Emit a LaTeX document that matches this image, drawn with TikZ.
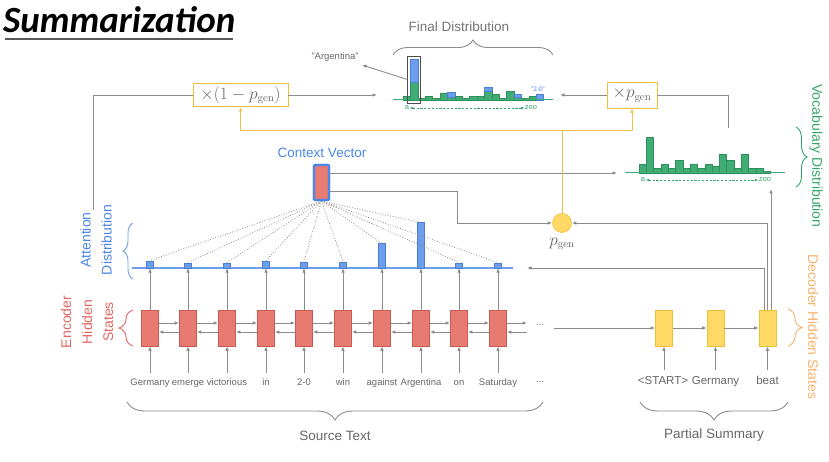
\documentclass[tikz,border=0pt]{standalone}
\usepackage[no-math]{fontspec}
\setmainfont{Liberation Sans}
\newfontfamily\titlefont{Carlito}
\usetikzlibrary{arrows.meta,decorations.pathreplacing,calc}
\definecolor{lgray}{HTML}{8C8C8C}
\definecolor{tgray}{HTML}{666666}
\definecolor{encfill}{HTML}{E77B71}
\definecolor{encdraw}{HTML}{C95A50}
\definecolor{bfill}{HTML}{6D9EEB}
\definecolor{bdraw}{HTML}{4A7FD9}
\definecolor{btext}{HTML}{4A86E8}
\definecolor{gfill}{HTML}{41AD76}
\definecolor{gdraw}{HTML}{2E8F5B}
\definecolor{gtext}{HTML}{35A46A}
\definecolor{yfill}{HTML}{FFD966}
\definecolor{ydraw}{HTML}{EFBF3A}
\definecolor{yline}{HTML}{F2BE45}
\definecolor{otext}{HTML}{F6B26B}
\definecolor{rtext}{HTML}{E06660}
\begin{document}
\begin{tikzpicture}[x=1pt,y=-1pt,
  ln/.style={draw=lgray,line width=0.9pt},
  arr/.style={ln,-{Latex[length=4.5pt,width=3.6pt]}},
  yarr/.style={draw=yline,line width=1pt,-{Latex[length=4.5pt,width=3.6pt]}},
  encbox/.style={draw=encdraw,fill=encfill,minimum width=17pt,minimum height=36pt,inner sep=0pt,line width=0.6pt},
  decbox/.style={draw=ydraw,fill=yfill,minimum width=17pt,minimum height=36pt,inner sep=0pt,line width=0.6pt},
  word/.style={text=tgray,font=\fontsize{9.5}{11}\selectfont,text height=7pt,text depth=2pt,inner sep=1pt,outer ysep=5pt},
  dword/.style={text=tgray,font=\fontsize{11.5}{13}\selectfont,text height=8.5pt,text depth=2.5pt,inner sep=1pt,outer ysep=5pt},
  attbar/.style={draw=bdraw,fill=bfill,minimum width=7pt,inner sep=0pt,anchor=south,line width=0.5pt},
  gbar/.style={draw=gdraw,fill=gfill,line width=0.4pt},
  bbar/.style={draw=bdraw,fill=bfill,line width=0.4pt},
  lbl/.style={font=\fontsize{13.5}{16}\selectfont},
  brc/.style={decorate,line width=0.9pt},
  mbox/.style={draw=ydraw,fill=white,line width=0.9pt,inner sep=1pt,text=tgray,font=\fontsize{16}{18}\selectfont},
  dotl/.style={draw=lgray,line width=0.8pt,dash pattern=on 0.8pt off 1.8pt},
  small/.style={font=\fontsize{7.5}{8}\selectfont,inner sep=0.5pt},
  sdash/.style={draw=gtext,line width=0.8pt,dash pattern=on 2.2pt off 1.6pt,{Latex[length=3.4pt,width=3pt]}-{Latex[length=3.4pt,width=3pt]}}
]
\useasboundingbox (0,0) rectangle (829,462);

% title
\node[anchor=west,inner sep=0pt,font=\titlefont\bfseries\itshape\fontsize{37}{42}\selectfont] (title) at (3,20) {Summarization};
\draw[line width=2pt,draw=black!65] (5,39) -- (233,39);

% attention line
\coordinate (attL) at (132,268);
\coordinate (attR) at (513,268);
\draw[draw=bfill,line width=1.1pt] (attL) -- (attR);

% context vector
\node[draw=btext,fill=encfill,line width=2.2pt,minimum width=15pt,minimum height=35pt,inner sep=0pt,rounded corners=1pt] (cv) at (321.5,182.5) {};
\node[lbl,text=btext] (cvl) at (322,153) {Context Vector};

% encoder
\foreach \i/\x/\w/\h in {1/150/Germany/7, 2/188/emerge/5, 3/227/victorious/5, 4/266/in/7, 5/304/2-0/6, 6/343/win/6, 7/382/against/24, 8/421/Argentina/45, 9/459/on/5, 10/498/Saturday/5} {
  \node[encbox] (e\i) at (\x,328) {};
  \node[word] (w\i) at (\x,383) {\w};
  \draw[arr] (w\i.north) -- (e\i.south);
  \draw[arr] (e\i.north) -- (e\i.north |- attL);
  \node[attbar,minimum height=\h pt] (a\i) at (\x,268) {};
  \draw[dotl] (cv.south) -- (a\i.north);
}
\node[draw=btext,fill=encfill,line width=2.2pt,minimum width=15pt,minimum height=35pt,inner sep=0pt,rounded corners=1pt] at (cv) {};
\foreach \i/\j in {1/2,2/3,3/4,4/5,5/6,6/7,7/8,8/9,9/10} {
  \draw[arr] ([yshift=5pt]e\i.east) -- ([yshift=5pt]e\j.west);
  \draw[arr] ([yshift=-4pt]e\j.west) -- ([yshift=-4pt]e\i.east);
}
\coordinate (eo1) at (527,323);
\coordinate (eo2) at (527,332);
\draw[arr] ([yshift=5pt]e10.east) -- (eo1);
\draw[arr] (eo2) -- ([yshift=-4pt]e10.east);
\node[text=tgray,font=\fontsize{10}{12}\selectfont] (dots) at (540,325) {...};
\node[text=tgray,font=\fontsize{10}{12}\selectfont] (wdots) at (540,382) {...};

% decoder
\node[decbox] (d1) at (664,328) {};
\node[decbox] (d2) at (715.5,328) {};
\node[decbox] (d3) at (767.5,328) {};
\node[dword] (dw1) at (663,381) {<START>};
\node[dword] (dw2) at (715.5,381) {Germany};
\node[dword] (dw3) at (767.5,381) {beat};
\foreach \i in {1,2,3} {\draw[arr] (dw\i.north -| d\i.south) -- (d\i.south);}
\draw[arr] (d1.east) -- (d2.west);
\draw[arr] (d2.east) -- (d3.west);
\draw[arr] ([xshift=6pt]dots.east |- d1.west) -- (d1.west);

% p_gen
\node[circle,draw=ydraw,fill=yfill,minimum size=19pt,inner sep=0pt,line width=0.6pt] (pg) at (562,223) {};
\node[text=tgray,font=\fontsize{16}{18}\selectfont] (pgl) at (562,244) {$p_{\mathrm{gen}}$};
\coordinate (bend) at (457,223);
\draw[arr] ([yshift=-8.5pt]cv.east) -| (bend) -- (pg.west);
\coordinate (vocL) at (617,173);
\draw[arr] ([yshift=9.5pt]cv.east) -- (vocL);
\draw[arr] (d3.north) |- (pg.east);
\coordinate (attTip) at (527,268);
\draw[arr] ([xshift=-3.5pt]d3.north) |- (attTip);
\coordinate (vocB) at (771,189);
\draw[arr] ([xshift=3.5pt]d3.north) -- (vocB);

% multiply boxes
\node[mbox,minimum width=95pt,minimum height=23pt] (m1) at (240.5,95) {$\times(1-p_{\mathrm{gen}})$};
\node[mbox,minimum width=50pt,minimum height=26pt] (m2) at (632,95) {$\times p_{\mathrm{gen}}$};
\coordinate (yj) at (562,131);
\draw[draw=yline,line width=1pt] (pg.north) -- (yj);
\draw[yarr] (yj) -| (m1.south);
\draw[yarr] (yj) -| (m2.south);
\coordinate (attnSrc) at (93,210);
\draw[ln] (attnSrc) |- (m1.west);
\coordinate (finL) at (377,95);
\draw[arr] (m1.east) -- (finL);
\coordinate (finR) at (560,95);
\draw[arr] (m2.west) -- (finR);
\coordinate (vtop) at (728,128);
\draw[ln] (m2.east) -| (vtop);

% final distribution
\foreach \i/\g/\b in {1/96/96, 2/82/59, 3/98/98, 4/96/96, 5/98/98, 6/93/93, 7/97/92, 8/96/96, 9/98/98, 10/96/96, 11/96/96, 12/91/87, 13/94/94, 14/98/98, 15/91/91, 16/97/94, 17/98/98, 18/96/96, 19/100/94} {
  \pgfmathsetmacro\xl{403+7.4*(\i-1)}
  \draw[gbar] (\xl,\g) rectangle (\xl+7.4,100);
  \ifdim \b pt<\g pt \draw[bbar] (\xl,\b) rectangle (\xl+7.4,\g); \fi
}
\coordinate (fb1) at (393,100);
\coordinate (fb2) at (553,100);
\draw[draw=gfill,line width=1pt] (fb1) -- (fb2);
\node[draw=black!70,line width=0.6pt,minimum width=13pt,minimum height=47pt,inner sep=0pt] (hl) at (414.1,79.5) {};
\node[text=tgray,font=\fontsize{9.5}{11}\selectfont] (argl) at (335,57) {"Argentina"};
\draw[arr] (hl.west) -- (argl.south east);
\node[small,text=gtext] (fa) at (407,108) {a};
\node[small,text=gtext] (fz) at (531,108) {zoo};
\draw[sdash] (fa.east) -- (fz.west);
\node[small,text=btext,font=\fontsize{6.5}{7}\selectfont] (l20) at (538,89) {"2-0"};
\node[lbl,text=black!55] (fdl) at (459,27) {Final Distribution};
\draw[brc,draw=lgray,decoration={brace,amplitude=15pt}] (393,55) -- (553,55);

% vocabulary distribution
\foreach \i/\t in {1/164, 2/137, 3/168, 4/164, 5/168, 6/160, 7/168, 8/164, 9/168, 10/164, 11/166, 12/154, 13/160, 14/168, 15/154, 16/168, 17/168, 18/171} {
  \pgfmathsetmacro\xl{639+7.3*(\i-1)}
  \draw[gbar] (\xl,\t) rectangle (\xl+7.3,173);
}
\coordinate (vb1) at (625,173);
\coordinate (vb2) at (785,173);
\draw[draw=gfill,line width=1pt] (vb1) -- (vb2);
\node[small,text=gtext] (va) at (643,180) {a};
\node[small,text=gtext] (vz) at (765,180) {zoo};
\draw[sdash] (va.east) -- (vz.west);

% side labels
\node[text=rtext,rotate=90,align=center,font=\fontsize{14}{21}\selectfont] (enclab) at (87,322) {Encoder\\Hidden\\States};
\node[text=btext,rotate=90,align=center,font=\fontsize{14}{21}\selectfont] (attlab) at (96,240) {Attention\\Distribution};
\node[text=gtext,rotate=-90,font=\fontsize{14}{16}\selectfont] (vlab) at (816,156) {Vocabulary Distribution};
\node[text=otext,rotate=-90,font=\fontsize{14}{16}\selectfont] (dlab) at (813,327) {Decoder Hidden States};

% braces
\draw[brc,draw=rtext,decoration={brace,amplitude=14pt}] (133,346) -- (133,310);
\draw[brc,draw=bfill,decoration={brace,amplitude=10pt}] (133,279) -- (133,223);
\draw[brc,draw=gtext,decoration={brace,amplitude=11pt}] (796,127) -- (796,187);
\draw[brc,draw=otext,decoration={brace,amplitude=14pt}] (788,309) -- (788,346);
\draw[brc,draw=lgray,decoration={brace,amplitude=18pt}] (543,402) -- (127,402);
\draw[brc,draw=lgray,decoration={brace,amplitude=18pt}] (788,402) -- (640,402);
\node[lbl,text=tgray] (stl) at (335,436) {Source Text};
\node[lbl,text=tgray] (psl) at (714,435) {Partial Summary};
\end{tikzpicture}
\end{document}
